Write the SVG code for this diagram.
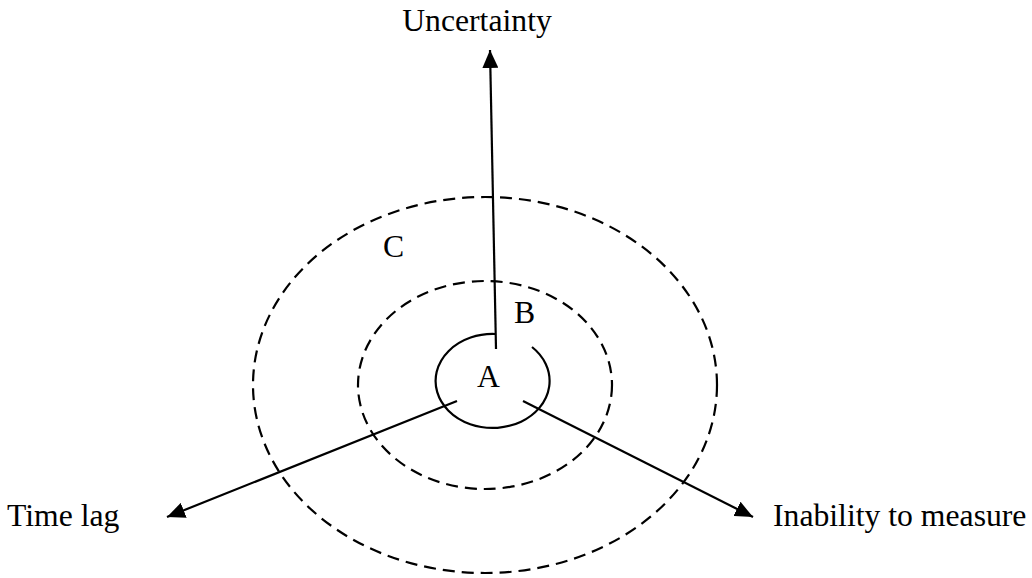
<svg xmlns="http://www.w3.org/2000/svg" width="1032" height="578" viewBox="0 0 1032 578">
<style>
.lbl{font-family:"Liberation Serif","Times New Roman",serif;font-size:31.7px;fill:#000}
.dash{fill:none;stroke:#000;stroke-width:2.2;stroke-dasharray:12 7}
.ln{fill:none;stroke:#000;stroke-width:2.2}
</style>
<defs>
<marker id="ah" markerUnits="userSpaceOnUse" markerWidth="20" markerHeight="16" refX="18" refY="8" orient="auto">
<path d="M0,0 L18,8 L0,16 Z" fill="#000"/>
</marker>
</defs>
<rect width="1032" height="578" fill="#fff"/>
<g id="zoneC">
<ellipse class="dash" cx="485" cy="385" rx="232" ry="188"/>
<text class="lbl" x="383" y="257">C</text>
</g>
<g id="zoneB">
<ellipse class="dash" cx="485" cy="385" rx="127" ry="104"/>
<text class="lbl" x="514" y="323">B</text>
</g>
<g id="zoneA">
<path class="ln" d="M532,347 A57,47 0 1 1 495,334"/>
<text class="lbl" x="477" y="387">A</text>
</g>
<g id="labels">
<text class="lbl" x="477" y="31" text-anchor="middle">Uncertainty</text>
<text class="lbl" x="7" y="526">Time lag</text>
<text class="lbl" x="773" y="526">Inability to measure</text>
</g>
<g id="connectors">
<line class="ln" x1="496" y1="349" x2="490" y2="50" marker-end="url(#ah)"/>
<line class="ln" x1="457" y1="401" x2="167" y2="517" marker-end="url(#ah)"/>
<line class="ln" x1="523" y1="401" x2="753" y2="517" marker-end="url(#ah)"/>
</g>
</svg>
